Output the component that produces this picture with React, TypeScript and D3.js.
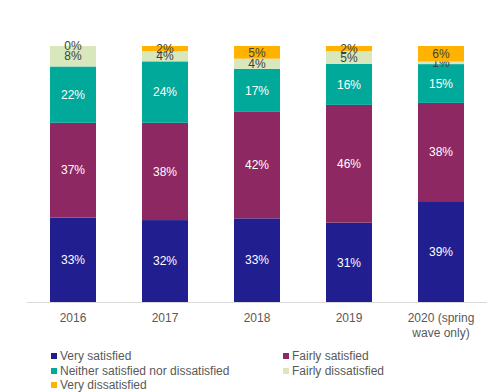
import React, { useEffect, useRef } from 'react';
import * as d3 from 'd3';

const years = ['2016', '2017', '2018', '2019', '2020 (spring wave only)'];
const seriesNames = [
  'Very satisfied',
  'Fairly satisfied',
  'Neither satisfied nor dissatisfied',
  'Fairly dissatisfied',
  'Very dissatisfied',
];
const verySatisfied = [33, 32, 33, 31, 39];
const fairlySatisfied = [37, 38, 42, 46, 38];
const neither = [22, 24, 17, 16, 15];
const fairlyDissatisfied = [8, 4, 4, 5, 1];
const veryDissatisfied = [0, 2, 5, 2, 6];

const colors = ['#211e8f', '#8e2862', '#00a99a', '#d8e8bc', '#ffb300'];
const labelColors = ['#ffffff', '#ffffff', '#ffffff', '#404040', '#404040'];

const App = () => {
  const svgRef = useRef<SVGSVGElement>(null);

  useEffect(() => {
    const width = 500;
    const height = 392;
    const margin = { top: 46, right: 13, bottom: 90, left: 27 };
    const chartWidth = width - margin.left - margin.right;
    const chartHeight = height - margin.top - margin.bottom;

    const svg = d3.select(svgRef.current)
      .attr('width', width)
      .attr('height', height)
      .style('font-family', 'Liberation Sans, Arial, sans-serif');
    svg.selectAll('*').remove();

    const allSeries = [verySatisfied, fairlySatisfied, neither, fairlyDissatisfied, veryDissatisfied];
    const rows = years.map((y, i) => {
      const r: any = { year: y };
      seriesNames.forEach((s, j) => { r[s] = allSeries[j][i]; });
      return r;
    });

    const stacked = d3.stack<any>()
      .keys(seriesNames)
      .offset(d3.stackOffsetExpand)(rows);

    const x = d3.scaleBand()
      .domain(years)
      .range([0, chartWidth])
      .paddingInner(0.5)
      .paddingOuter(0.25);

    const y = d3.scaleLinear()
      .domain([0, 1])
      .range([chartHeight, 0]);

    const g = svg.append('g').attr('transform', `translate(${margin.left},${margin.top})`);

    // stacks
    stacked.forEach((layer, j) => {
      g.selectAll(`.bar${j}`)
        .data(layer)
        .join('rect')
        .attr('x', d => x(d.data.year)!)
        .attr('y', d => y(d[1]))
        .attr('width', x.bandwidth())
        .attr('height', d => y(d[0]) - y(d[1]))
        .attr('fill', colors[j]);

      g.selectAll(`.lbl${j}`)
        .data(layer)
        .join('text')
        .attr('x', d => x(d.data.year)! + x.bandwidth() / 2)
        .attr('y', d => (y(d[0]) + y(d[1])) / 2)
        .attr('dy', '0.35em')
        .attr('text-anchor', 'middle')
        .attr('font-size', 12)
        .attr('fill', labelColors[j])
        .text((d, i) => `${allSeries[j][i]}%`);
    });

    // axis line
    g.append('line')
      .attr('x1', 0)
      .attr('x2', chartWidth)
      .attr('y1', chartHeight + 0.5)
      .attr('y2', chartHeight + 0.5)
      .attr('stroke', '#d9d9d9');

    // x labels
    const xLabels = g.selectAll('.xl')
      .data(years)
      .join('text')
      .attr('x', d => x(d)! + x.bandwidth() / 2)
      .attr('y', chartHeight + 20)
      .attr('text-anchor', 'middle')
      .attr('font-size', 12)
      .attr('fill', '#595959');
    xLabels.each(function (d) {
      const parts = d === '2020 (spring wave only)' ? ['2020 (spring', 'wave only)'] : [d];
      const t = d3.select(this);
      parts.forEach((p, k) => {
        t.append('tspan')
          .attr('x', x(d)! + x.bandwidth() / 2)
          .attr('dy', k === 0 ? 0 : 15)
          .text(p);
      });
    });

    // legend
    const legendPos = [
      [51, 356], [283, 356],
      [51, 371], [283, 371],
      [51, 385],
    ];
    const legend = svg.selectAll('.leg')
      .data(seriesNames)
      .join('g')
      .attr('transform', (d, i) => `translate(${legendPos[i][0]},${legendPos[i][1]})`);
    legend.append('rect')
      .attr('x', 0)
      .attr('y', -3)
      .attr('width', 6)
      .attr('height', 6)
      .attr('fill', (d, i) => colors[i]);
    legend.append('text')
      .attr('x', 9)
      .attr('y', 0)
      .attr('dy', '0.35em')
      .attr('font-size', 12)
      .attr('fill', '#595959')
      .text(d => d);
  }, []);

  return <svg ref={svgRef} style={{ position: 'absolute', left: 0, top: 0 }}></svg>;
};

export default App;
